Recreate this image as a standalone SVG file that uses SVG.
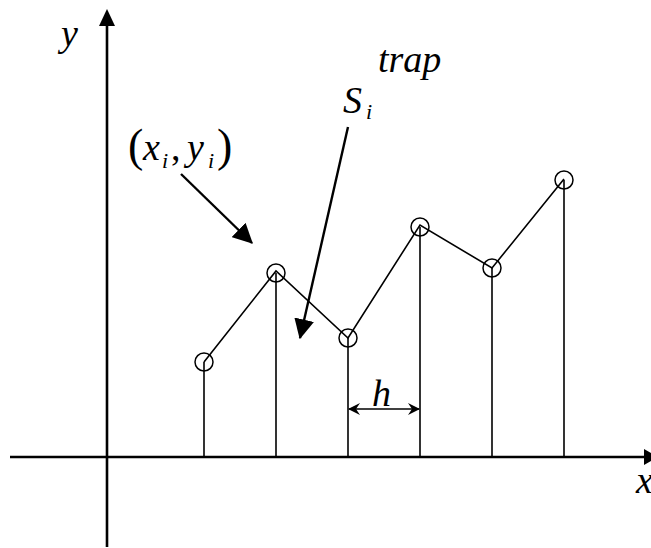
<svg xmlns="http://www.w3.org/2000/svg" width="651" height="548" viewBox="0 0 651 548">
<style>
.ax{stroke:#000;stroke-width:2.6;fill:none}
.thin{stroke:#000;stroke-width:1.6;fill:none}
.pt{stroke:#000;stroke-width:1.5;fill:none}
.ptr{stroke:#000;stroke-width:2.4;fill:none}
</style>
<defs>
<marker id="ah" markerUnits="userSpaceOnUse" markerWidth="20" markerHeight="20" viewBox="0 0 16 16" refX="15" refY="8" orient="auto">
<path d="M0,0 L16,8 L0,16 Z" fill="#000"/>
</marker>
<marker id="hb" markerUnits="userSpaceOnUse" markerWidth="12" markerHeight="12" viewBox="0 0 12 12" refX="11" refY="6" orient="auto-start-reverse">
<path d="M0,0 L12,6 L0,12 L4,6 Z" fill="#000"/>
</marker>
</defs>
<g id="axes">
<line class="ax" x1="107" y1="547" x2="107" y2="24"/>
<path d="M107,9 L99,26 L115,26 Z" fill="#000"/>
<line class="ax" x1="10" y1="457" x2="648" y2="457"/>
<path d="M658,457 L644,449 L644,465 Z" fill="#000"/>
<text x="61" y="46" font-family="'Liberation Serif', serif" font-style="italic" font-size="38">y</text>
<text x="636" y="493" font-family="'Liberation Serif', serif" font-style="italic" font-size="38">x</text>
</g>
<g id="connectors">
<line class="thin" x1="204" y1="362" x2="204" y2="457"/>
<line class="thin" x1="276" y1="273" x2="276" y2="457"/>
<line class="thin" x1="348" y1="338" x2="348" y2="457"/>
<line class="thin" x1="420" y1="227" x2="420" y2="457"/>
<line class="thin" x1="492" y1="268" x2="492" y2="457"/>
<line class="thin" x1="564" y1="180" x2="564" y2="457"/>
<polyline class="thin" points="204,362 276,271 348,338 420,225 492,268 564,179"/>
<line class="ptr" x1="181" y1="174" x2="252" y2="243" marker-end="url(#ah)"/>
<line class="ptr" x1="348" y1="127" x2="300" y2="338" marker-end="url(#ah)"/>
<line class="thin" stroke-width="2" x1="349" y1="409" x2="419" y2="409" marker-start="url(#hb)" marker-end="url(#hb)"/>
</g>
<g id="nodes">
<g id="p1"><circle class="pt" cx="204" cy="362" r="9"/></g>
<g id="p2"><circle class="pt" cx="276" cy="273" r="9"/></g>
<g id="p3"><circle class="pt" cx="348" cy="338" r="9"/></g>
<g id="p4"><circle class="pt" cx="420" cy="227" r="9"/></g>
<g id="p5"><circle class="pt" cx="492" cy="268" r="9"/></g>
<g id="p6"><circle class="pt" cx="564" cy="180" r="9"/></g>
</g>
<g id="labels">
<text x="378" y="72" font-family="'Liberation Serif', serif" font-size="38" font-style="italic">trap</text>
<text x="343" y="113" font-family="'Liberation Serif', serif" font-size="38" font-style="italic">S</text>
<text x="366" y="119" font-family="'Liberation Serif', serif" font-size="22" font-style="italic">i</text>
<text x="128" y="161" font-family="'Liberation Serif', serif" font-size="46">(</text>
<text x="143" y="160" font-family="'Liberation Serif', serif" font-size="38" font-style="italic">x</text>
<text x="162" y="168" font-family="'Liberation Serif', serif" font-size="22" font-style="italic">i</text>
<text x="171" y="160" font-family="'Liberation Serif', serif" font-size="38">,</text>
<text x="187" y="160" font-family="'Liberation Serif', serif" font-size="38" font-style="italic">y</text>
<text x="208" y="168" font-family="'Liberation Serif', serif" font-size="22" font-style="italic">i</text>
<text x="217" y="161" font-family="'Liberation Serif', serif" font-size="46">)</text>
<text x="372" y="406" font-family="'Liberation Serif', serif" font-size="38" font-style="italic">h</text>
</g>
</svg>
